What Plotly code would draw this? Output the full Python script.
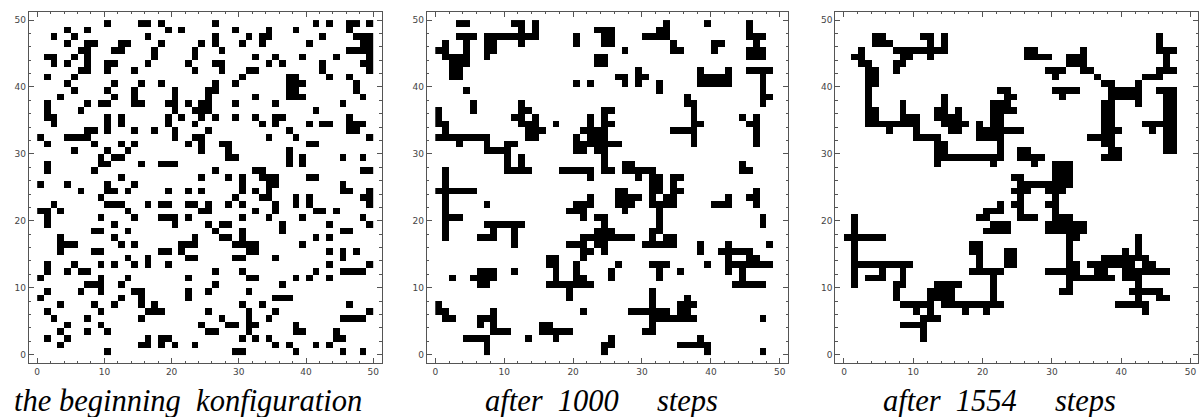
import plotly.graph_objects as go

N = 50
# Each list: rows from top (y=49) to bottom (y=0); numbers = column indices (x) of black cells
start_rows = [
    [10,15,16,18,26,41,43,46,47,49],
    [4,7,19,21,29,34,38,46],
    [2,5,16,26,31,33,34,42,47,48,49],
    [4,7,8,12,13,18,24,26,30,33,40,48,49],
    [6,7,11,12,17,23,27,46,47,48,49],
    [1,2,5,7,17,23,32,35,39,44,49],
    [2,4,7,10,11,16,22,26,27,34,36,42,48,49],
    [6,7,10,14,23,27,31,32,42,49],
    [1,5,30,37,38,43,46],
    [4,11,15,18,26,29,37,38,39,47],
    [5,10,14,20,25,26,37,38,47],
    [3,11,14,20,25,32,37,38,39,48],
    [1,7,9,10,14,15,19,20,22,24,25,29,35,45],
    [1,6,20,23,24,25,41],
    [1,2,10,12,19,21,24,26,29,32,35,36,46],
    [2,10,12,19,23,33,35,40,42,43,46,47,48],
    [7,8,10,14,17,20,25,37,46,47],
    [0,4,5,6,7,20,23,24,34,38,49],
    [1,8,12,14,22,24,27,28,40,41],
    [5,10,13,24,28,37],
    [9,11,12,28,29,37,39,45,48],
    [1,9,10,15,18,19,20,37,39],
    [1,8,26,32,33,48,49],
    [12,24,28,30,33,34,35,40,41],
    [0,4,10,14,30,34,35,45],
    [6,10,11,13,19,22,24,30,32,34,45,46,49],
    [9,29,33,34,38,40,48,49],
    [2,10,11,12,16,18,19,22,23,25,28,30,35,38,40,49],
    [0,1,3,13,24,25,32,35,41,42,44],
    [1,9,14,18,19,20,22,30,34,39,48],
    [1,11,20,25,27,28,36,43,49],
    [8,9,13,26,30,36,45,46],
    [3,11,23,27,28,30,41,43],
    [3,4,5,12,14,21,22,23,29,30,31,32,39],
    [3,8,9,18,19,21,31,32,43,45,47],
    [13,16,22,23,29,30,35,45],
    [1,5,9,11,14,16,19,43,49],
    [1,4,6,7,26,30,41,45,46,47,48],
    [0,9,13,22,31,32,38,40,43],
    [7,8,9,12,26,36],
    [1,6,9,14,15,22,25,31],
    [0,12,15,22,35,36,37],
    [3,8,11,15,17,30,33,46],
    [1,9,16,17,18,25,31,35,49],
    [2,7,15,27,31,34,45,46,47,48],
    [4,9,24,28,29,31,32,38],
    [3,7,10,25,26,31,38,39,44],
    [1,4,16,18,19,30,32,34,44,45],
    [3,15,16,18,20,23,35,37,41,43],
    [10,29,30,38,45,48],
]

step1000_rows = [
    [3,4,11,12,14,33,39,45],
    [12,14,23,24,25,32,33,45],
    [3,4,5,7,8,9,10,11,12,13,14,20,24,25,30,31,32,33,45,46,47],
    [1,4,7,8,12,20,24,25,34,40,41,46],
    [0,1,4,7,8,27,34,35,40,45,46,47],
    [1,2,3,4,7,23,24,45,46,47],
    [2,3,4,23,24],
    [2,3,29,38,42,45,46,47,48],
    [2,3,26,27,29,30,38,39,40,41,42,47],
    [20,22,27,29,32,38,39,40,41,42,47],
    [4,32,47],
    [36,47,48],
    [5,12,36,37,47],
    [0,5,12,13,24,25,37],
    [0,11,12,14,22,24,37,44,46],
    [0,1,12,13,14,17,22,24,25,37,38,45,46],
    [1,13,14,15,21,22,23,24,34,35,36,37,46],
    [0,1,2,3,4,5,6,7,13,14,20,22,23,24,37,46],
    [3,7,10,11,20,21,22,23,24,25,26,37,46],
    [7,8,9,10,20,21,23,24],
    [10,12,24],
    [10,12,24,27,28,44],
    [1,10,11,12,13,18,19,20,21,22,24,25,27,28,29,30,31,44,45],
    [1,22,29,31,32,34,35],
    [1,31,32,34],
    [0,1,2,3,4,5,26,27,31,32,34,35,46],
    [1,22,26,27,28,29,31,33,34,42,45,46],
    [1,7,20,21,22,26,27,28,31,32,33,34,40,41,42,46],
    [1,19,20,21,27,32],
    [1,2,3,21,23,24,32,47],
    [1,7,8,9,10,11,12,24,32,47],
    [1,8,11,23,24,25,31,32],
    [1,6,7,8,11,21,22,23,24,25,26,27,28,31,33,34],
    [11,19,20,21,23,24,30,31,32,33,34,38,42,48],
    [21,22,24,38,41,42,43,44,45],
    [16,17,21,42,45,46],
    [16,17,20,26,31,32,33,39,42,43,44,45,46,47,48],
    [6,7,8,11,17,20,25,32,35,42,44],
    [2,5,6,7,8,17,20,21,25,32,44],
    [6,7,16,17,18,19,20,21,22,43,44,45,46,47],
    [19,31],
    [19,31,36],
    [0,31,35,36,37],
    [0,1,8,21,28,29,30,31,32,33,35,36],
    [1,2,6,7,8,31,32,33,34,35,36,37,47],
    [6,8,15,16,31],
    [8,9,10,15,16,17,18,19,30,31],
    [4,5,6,7,13,17,25,38],
    [7,24,25,35,36,37,38,39],
    [7,24,39,47],
]

step1554_rows = [
    [],
    [],
    [4,5,11,12,14,45],
    [4,5,6,12,14,45],
    [2,7,8,9,10,11,12,13,14,26,27,34,45,46,47],
    [1,2,8,9,12,26,27,28,29,32,33,34,46],
    [2,3,7,8,32,33,34,46],
    [3,4,7,29,30,31,34,35,45,46,47],
    [3,4,30,36,43,44,45],
    [3,4,37,38,42],
    [3,22,23,30,31,32,33,38,39,40,41,42,45,46,47],
    [3,14,23,24,31,38,39,40,41,42,46,47],
    [3,8,14,21,22,23,37,38,42,46,47],
    [3,4,8,13,14,16,21,22,23,24,37,38,46,47],
    [3,4,8,9,10,13,14,15,16,21,22,37,38,46,47],
    [3,4,5,6,7,8,9,10,14,15,16,17,19,21,22,37,38,43,44,45,46,47],
    [6,10,15,16,19,20,21,22,23,24,25,37,38,39,44,46,47],
    [10,11,12,13,19,20,21,22,35,36,37,38,46,47],
    [13,14,22,37,38,46,47],
    [13,14,22,25,26,38,39,46,47],
    [13,14,15,16,17,18,19,20,21,22,25,26,27,28,37,38,39],
    [13,21,27,30,31,32],
    [30,31,32],
    [24,25,30,31,32],
    [25,26,27,28,29,30,31,32],
    [24,25,26,29,30,31],
    [25,30],
    [22,24,25,29,30],
    [20,21,22,25,30],
    [1,19,20,25,26,27,30,31,32],
    [1,21,22,23,29,30,31,32,33,34],
    [1,20,21,22,23,29,30,31,32,33,34],
    [0,1,2,3,4,5,32,33,42],
    [1,18,19,32,42],
    [1,18,19,23,24,32,40,42],
    [1,19,23,24,32,37,38,39,40,41,42,43],
    [1,2,3,4,5,6,7,8,9,19,23,24,32,33,35,36,37,38,39,40,41,43,44],
    [1,5,8,18,19,20,21,22,29,30,31,32,33,36,37,40,41,42,43,44,45,46],
    [1,3,4,5,8,21,32,33,34,35,36,37,38,40,41,42],
    [1,7,8,13,14,15,16,21,32,42],
    [7,12,13,14,15,21,31,32,41,42,43,44,45],
    [7,12,13,14,15,21,42,45,46],
    [8,9,10,11,12,14,15,16,17,18,19,20,21,22,39,40,41,42,43],
    [10,12,17,20,43],
    [11,12,13],
    [8,9,10,11],
    [11],
    [11],
    [],
    [],
]

captions = [
    "the beginning\u00a0\u00a0konfiguration",
    "after\u00a0\u00a01000\u00a0\u00a0\u00a0\u00a0\u00a0steps",
    "after\u00a0\u00a01554\u00a0\u00a0\u00a0\u00a0\u00a0steps",
]
major_ticks = [0, 10, 20, 30, 40, 50]


def to_matrix(rows):
    z = [[0] * N for _ in range(N)]
    for i, cols in enumerate(rows):
        y = N - 1 - i
        for c in cols:
            z[y][c] = 1
    return z


W, H = 1199, 417
# (pixel of x=0, pixels per unit, right edge of x-range)
panel_geom = [(37.2, 6.72, 51.25), (435.3, 6.89, 51.25), (844.0, 6.93, 51.1)]
caption_cx = [188.0, 601.0, 999.0]
top_px, bottom_px = 11.7, 363.0
centers = [i + 0.5 for i in range(N)]
frame_col = "#555555"

fig = go.Figure()
layout = dict(
    width=W, height=H, margin=dict(l=0, r=0, t=0, b=0),
    paper_bgcolor="white", plot_bgcolor="white", showlegend=False,
)
annotations = []
for k, rows in enumerate([start_rows, step1000_rows, step1554_rows]):
    sfx = "" if k == 0 else str(k + 1)
    fig.add_trace(go.Heatmap(
        z=to_matrix(rows), x=centers, y=centers,
        colorscale=[[0, "white"], [1, "black"]], zmin=0, zmax=1,
        showscale=False, hoverinfo="skip",
        xaxis="x" + sfx, yaxis="y" + sfx,
    ))
    p0, s, xr = panel_geom[k]
    x0 = p0 - 1.25 * s
    x1 = p0 + xr * s
    common = dict(
        showline=True, linecolor=frame_col, linewidth=1,
        mirror="allticks", ticks="inside", ticklen=5, tickcolor=frame_col, tickwidth=1,
        tickvals=major_ticks, ticktext=[str(v) for v in major_ticks],
        tickfont=dict(family="DejaVu Sans", size=9, color="#444444"),
        showgrid=False, zeroline=False, fixedrange=True,
        minor=dict(tick0=0, dtick=2, ticks="inside", ticklen=2.5, tickcolor=frame_col, showgrid=False),
    )
    layout["xaxis" + sfx] = dict(common, range=[-1.25, xr], domain=[x0 / W, min(x1 / W, 1.0)], anchor="y" + sfx)
    layout["yaxis" + sfx] = dict(common, range=[-1.25, 51.25], domain=[1 - bottom_px / H, 1 - top_px / H], anchor="x" + sfx)
    annotations.append(dict(
        text=captions[k], xref="paper", yref="paper",
        x=caption_cx[k] / W, y=1 - 401 / H, xanchor="center", yanchor="middle",
        showarrow=False,
        font=dict(family="Liberation Serif, 'Times New Roman', serif", size=30.5, color="black", style="italic"),
    ))

layout["annotations"] = annotations
fig.update_layout(**layout)
fig.write_html("out.html")
